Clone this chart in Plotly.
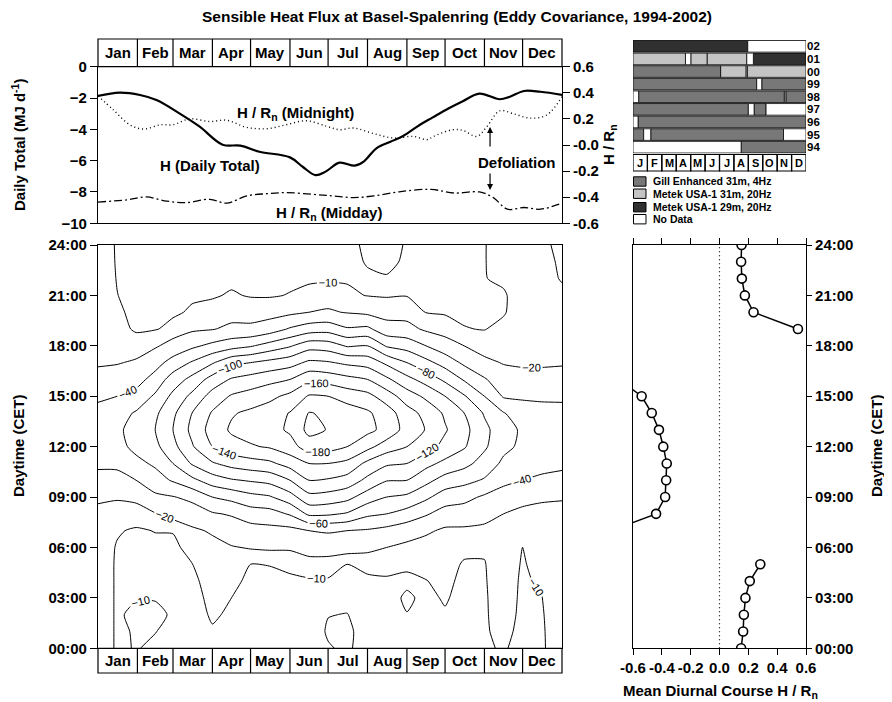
import numpy as np
import plotly.graph_objects as go

W, H = 892, 702
OFF = 8  # the page body adds an 8 px margin around the figure
def px(x): return (x - OFF) / W
def py(y): return 1 - (y - OFF) / H

FONT = "Liberation Sans, Arial, Helvetica, sans-serif"
BOLD15 = dict(family=FONT, size=15, color="black", weight="bold")

# ---------------- calendar ----------------
month_names = ["Jan", "Feb", "Mar", "Apr", "May", "Jun", "Jul", "Aug", "Sep", "Oct", "Nov", "Dec"]
month_letters = ["J", "F", "M", "A", "M", "J", "J", "A", "S", "O", "N", "D"]
month_edges = [0, 31, 59, 90, 120, 151, 181, 212, 243, 273, 304, 334, 365]

# ---------------- top panel ----------------
h_days = [0, 17, 33, 46, 64, 80, 98, 112, 127, 151, 161, 171, 179, 190, 202, 209, 219, 230, 240, 253, 263, 276, 287, 300, 316, 324, 335, 348, 365]
h_daily = [-1.87, -1.66, -1.81, -2.13, -2.98, -3.83, -4.98, -5.04, -5.43, -5.79, -6.39, -6.92, -6.70, -6.13, -6.32, -6.06, -5.21, -4.79, -4.43, -3.72, -3.25, -2.65, -2.2, -1.72, -2.08, -1.92, -1.55, -1.6, -1.8]

mn_days = [0, 12, 25, 36, 49, 59, 72, 88, 101, 117, 133, 148, 164, 180, 190, 201, 217, 232, 248, 259, 264, 279, 287, 298, 306, 316, 327, 340, 353, 365]
hrn_midnight = [0.376, 0.27, 0.155, 0.122, 0.155, 0.155, 0.2, 0.18, 0.19, 0.135, 0.125, 0.155, 0.186, 0.143, 0.117, 0.13, 0.087, 0.054, 0.066, 0.041, 0.066, 0.117, 0.112, 0.066, 0.142, 0.262, 0.239, 0.206, 0.23, 0.37]

md_days = [0, 23, 38, 54, 70, 88, 101, 117, 133, 148, 169, 185, 201, 217, 238, 262, 280, 300, 311, 322, 335, 348, 365]
hrn_midday = [-0.437, -0.42, -0.398, -0.43, -0.441, -0.416, -0.446, -0.39, -0.373, -0.365, -0.378, -0.39, -0.403, -0.39, -0.357, -0.34, -0.368, -0.36, -0.403, -0.492, -0.479, -0.492, -0.446]

rn_ticks = [-0.6, -0.4, -0.2, 0.0, 0.2, 0.4, 0.6]
rn_ticktext_top = ["-0.6", "-0.4", "-0.2", "-0.0", "0.2", "0.4", "0.6"]
rn_ticktext_bottom = ["-0.6", "-0.4", "-0.2", "0.0", "0.2", "0.4", "0.6"]
daily_ticks = [-10, -8, -6, -4, -2, 0]

# ---------------- contour grid (W m-2), columns = day of year, rows = hour ----------------
grid_days = [0, 15, 30, 45, 59, 74, 90, 105, 120, 135, 151, 166, 181, 196, 212, 227, 243, 258, 273, 288, 304, 319, 334, 349, 365]
grid_hours = list(range(25))
hour_ticks = [0, 3, 6, 9, 12, 15, 18, 21, 24]
hour_labels = ["00:00", "03:00", "06:00", "09:00", "12:00", "15:00", "18:00", "21:00", "24:00"]

c_d000 = [-13, -13, -13, -13, -13, -13, -13, -14, -17, -22, -33, -44, -51, -52, -47, -36, -26, -18, -15, -14, -13, -13, -13, -13, -13]
c_d015 = [-9.4, -9.4, -9.4, -9.4, -9.4, -9.4, -9.6, -10.5, -16, -21, -32, -45, -54, -56, -52, -40, -28, -19, -14, -12, -10.8, -10.1, -9.8, -9.6, -9.5]
c_d030 = [-10.2, -10.3, -11, -9.7, -8.5, -8.5, -8.8, -9.3, -13, -24, -40, -55, -65, -68, -62, -47, -32, -22, -13, -9.2, -8.8, -8.5, -8.5, -8.5, -8.5]
c_d045 = [-9.3, -10.1, -10.8, -9.8, -8.5, -8.3, -8.6, -10.2, -19, -36, -52, -63, -75, -80, -76, -63, -48, -32, -18, -9.5, -8.8, -8.5, -8.5, -8.5, -8.5]
c_d059 = [-8.5, -9, -9.6, -9.5, -8.5, -8.3, -8.7, -10.3, -25, -39, -62, -80, -94, -100, -96, -85, -69, -48, -26, -12, -9, -8.5, -8.5, -8.5, -8.5]
c_d074 = [-8, -8, -8.3, -8.7, -9.2, -9.9, -12, -17, -30, -45, -75, -102, -118, -125, -120, -105, -86, -62, -36, -17, -10.8, -9.2, -8.5, -8.5, -8.5]
c_d090 = [-8.5, -9.6, -10.5, -11, -11.5, -12.5, -15, -22, -38, -60, -90, -118, -140, -148, -142, -128, -108, -78, -45, -19, -11.5, -9.6, -9, -8.5, -8.5]
c_d105 = [-8.5, -8.8, -9.4, -10, -10.8, -12.5, -19, -28, -42, -66, -98, -127, -152, -163, -158, -142, -122, -95, -52, -24, -13, -10.4, -9.2, -8.5, -8.5]
c_d120 = [-8.5, -8.5, -8.5, -8.7, -9.3, -10, -21, -32, -50, -74, -102, -132, -158, -168, -164, -148, -128, -100, -58, -24, -12.5, -9.7, -9.5, -8.7, -8.5]
c_d135 = [-8.3, -8.3, -8.4, -8.6, -9.2, -10.1, -22, -34, -52, -78, -106, -136, -162, -173, -170, -155, -134, -106, -68, -30, -13, -9.6, -9.3, -8.6, -8.4]
c_d151 = [-8.2, -8.2, -8.3, -8.5, -9.2, -11, -22, -34, -62, -92, -120, -148, -172, -183, -181, -165, -140, -112, -78, -42, -16, -10.2, -9.2, -8.4, -8.2]
c_d166 = [-8, -8, -8.2, -8.5, -9.3, -13, -28, -40, -84, -114, -140, -160, -190, -206, -201, -182, -155, -124, -92, -50, -20, -12, -9, -8.2, -8]
c_d181 = [-9.7, -10.4, -9.9, -8.8, -9.3, -13, -28, -42, -83, -112, -138, -160, -188, -199, -197, -180, -152, -122, -90, -52, -22, -12.5, -9.3, -8.3, -8.2]
c_d196 = [-10.6, -10.8, -10.1, -9, -8.8, -10, -26, -40, -78, -106, -132, -155, -180, -192, -190, -172, -146, -116, -78, -42, -19, -11, -9.5, -8.8, -8.5]
c_d212 = [-8.3, -8.3, -8.4, -8.6, -9.3, -11, -24, -38, -64, -90, -115, -135, -166, -185, -183, -166, -140, -112, -80, -44, -16, -9.8, -9.4, -10.3, -11]
c_d227 = [-8.5, -8.5, -8.6, -8.8, -9.4, -11.5, -20, -34, -60, -80, -101, -123, -150, -174, -170, -150, -124, -96, -58, -28, -13, -9.6, -9.8, -10.6, -11.2]
c_d243 = [-8.6, -8.7, -9.9, -10.5, -9.4, -10.5, -16, -28, -52, -76, -100, -120, -140, -152, -148, -130, -106, -80, -52, -26, -13, -9.8, -9.3, -9.6, -9.7]
c_d258 = [-8.8, -8.8, -9, -9.3, -9.9, -11, -12.5, -23, -42, -64, -86, -106, -128, -139, -134, -116, -92, -66, -40, -17, -9.8, -9.3, -9.2, -9.2, -9.2]
c_d273 = [-9, -9.3, -9.7, -10.3, -10.8, -11.5, -12.5, -17, -32, -50, -72, -95, -114, -122, -117, -100, -76, -52, -28, -13, -9.4, -9.2, -9, -8.8, -8.8]
c_d288 = [-8.8, -8.8, -8.9, -9, -9.2, -9.6, -11, -17, -30, -46, -66, -86, -102, -106, -100, -82, -58, -36, -20, -10.2, -9.2, -9.1, -9, -8.9, -8.9]
c_d304 = [-9.6, -9.6, -9.6, -9.6, -9.7, -9.8, -10.5, -16, -26, -37, -58, -72, -83, -85, -78, -60, -42, -24, -13, -9.8, -9.8, -9.8, -9.8, -9.8, -9.8]
c_d319 = [-10.3, -11, -11.5, -11.8, -12, -12.5, -13.5, -16, -20, -31, -45, -56, -65, -68, -61, -38, -28, -19, -14.5, -11.5, -9.5, -9.3, -11, -12, -12]
c_d334 = [-9, -9, -9.2, -9.3, -9.4, -9.6, -9.9, -12, -17, -24, -40, -50, -56, -57, -50, -37, -25, -18, -15, -13.5, -13, -13, -13, -13, -13]
c_d349 = [-9.3, -9.4, -9.6, -9.9, -10.6, -11.5, -12.3, -13.5, -16, -22, -36, -47, -52, -53, -48, -36, -25, -18, -15, -14, -13.5, -13.2, -12.5, -12, -11]
c_d365 = [-13, -13, -13, -13, -13, -13, -13, -14, -16.5, -21, -33, -45, -51, -52, -47, -36, -26, -18.5, -15, -14, -13, -11.5, -9.5, -9, -8.8]

grid_columns = [c_d000, c_d015, c_d030, c_d045, c_d059, c_d074, c_d090, c_d105, c_d120, c_d135,
                c_d151, c_d166, c_d181, c_d196, c_d212, c_d227, c_d243, c_d258, c_d273, c_d288,
                c_d304, c_d319, c_d334, c_d349, c_d365]
z = np.array(grid_columns).T

# ---------------- mean diurnal course H / Rn ----------------
diurnal_hours = list(range(25))
diurnal_hrn = [0.15, 0.164, 0.169, 0.18, 0.21, 0.283, None, -0.75, -0.44, -0.377, -0.37, -0.366, -0.39,
               -0.42, -0.47, -0.54, -0.70, None, None, 0.544, 0.236, 0.176, 0.155, 0.15, 0.153]

# ---------------- data availability ----------------
years = ["94", "95", "96", "97", "98", "99", "00", "01", "02"]
seg_year = ["02", "02",
            "01", "01", "01", "01", "01", "01",
            "00", "00", "00", "00",
            "99", "99", "99",
            "98", "98", "98", "98",
            "97", "97", "97", "97",
            "96", "96",
            "95", "95", "95", "95",
            "94", "94"]
seg_start = [0, 7.96,
             0, 3.64, 4.01, 5.15, 7.89, 8.35,
             0, 6.08, 7.85, 7.93,
             0, 8.58, 8.93,
             0, 0.39, 10.5, 10.6,
             0, 8.0, 8.4, 9.23,
             0, 0.35,
             0, 0.74, 1.23, 10.44,
             0, 7.5]
seg_end = [7.96, 12,
           3.64, 4.01, 5.15, 7.89, 8.35, 12,
           6.08, 7.85, 7.93, 12,
           8.58, 8.93, 12,
           0.39, 10.5, 10.6, 12,
           8.0, 8.4, 9.23, 12,
           0.35, 12,
           0.74, 1.23, 10.44, 12,
           7.5, 12]
seg_kind = ["M29", "ND",
            "M31", "ND", "M31", "M31", "ND", "M29",
            "G", "M31", "ND", "M31",
            "G", "ND", "G",
            "ND", "G", "ND", "G",
            "G", "ND", "G", "ND",
            "ND", "G",
            "G", "ND", "G", "ND",
            "ND", "G"]
kind_names = {"G": "Gill Enhanced 31m, 4Hz", "M31": "Metek USA-1 31m, 20Hz",
              "M29": "Metek USA-1 29m, 20Hz", "ND": "No Data"}
kind_colors = {"G": "#787878", "M31": "#c4c4c4", "M29": "#303030", "ND": "#ffffff"}
legend_order = ["G", "M31", "M29", "ND"]

fig = go.Figure()

# top panel
fig.add_trace(go.Scatter(x=h_days, y=h_daily, mode="lines", line=dict(color="black", width=2.2, shape="spline"),
                         xaxis="x", yaxis="y", hoverinfo="skip"))
fig.add_trace(go.Scatter(x=mn_days, y=hrn_midnight, mode="lines",
                         line=dict(color="black", width=1.4, dash="1px,3px", shape="spline"),
                         xaxis="x", yaxis="y2", hoverinfo="skip"))
fig.add_trace(go.Scatter(x=md_days, y=hrn_midday, mode="lines",
                         line=dict(color="black", width=1.3, dash="8px,3px,2px,3px", shape="spline"),
                         xaxis="x", yaxis="y2", hoverinfo="skip"))

# contour panel
black_scale = [[0, "black"], [1, "black"]]
for start, end, size in [(-200, -20, 20), (-10, -10, 10)]:
    fig.add_trace(go.Contour(x=grid_days, y=grid_hours, z=z, xaxis="x3", yaxis="y3", showscale=False,
                             autocontour=False, colorscale=black_scale,
                             contours=dict(start=start, end=end, size=size, coloring="lines", showlabels=True,
                                           labelfont=dict(family=FONT, size=11, color="black")),
                             line=dict(width=1, smoothing=0.6), hoverinfo="skip"))

# diurnal panel
fig.add_trace(go.Scatter(x=[0, 0], y=[0, 24], mode="lines", line=dict(color="black", width=1.2, dash="1px,3px"),
                         xaxis="x4", yaxis="y4", hoverinfo="skip"))
fig.add_trace(go.Scatter(x=diurnal_hrn, y=diurnal_hours, mode="lines+markers", connectgaps=False,
                         line=dict(color="black", width=1.5),
                         marker=dict(symbol="circle", size=9, color="white", line=dict(color="black", width=1.6)),
                         xaxis="x4", yaxis="y4", hoverinfo="skip"))

# availability bars
for k in legend_order:
    idx = [i for i, kk in enumerate(seg_kind) if kk == k]
    fig.add_trace(go.Bar(orientation="h", y=[seg_year[i] for i in idx],
                         x=[seg_end[i] - seg_start[i] for i in idx],
                         base=[seg_start[i] for i in idx],
                         marker=dict(color=kind_colors[k], line=dict(color="black", width=0.8)),
                         xaxis="x5", yaxis="y5", hoverinfo="skip", width=0.92))

shapes = []
annotations = []

def month_strip(xref, y_top, y_bot, fontsize):
    shapes.append(dict(type="rect", xref="paper", yref="paper", x0=px(98), x1=px(562),
                       y0=py(y_bot), y1=py(y_top), line=dict(color="black", width=1.2)))
    for e in month_edges[1:-1]:
        shapes.append(dict(type="line", xref=xref, yref="paper", x0=e, x1=e, y0=py(y_bot), y1=py(y_top),
                           line=dict(color="black", width=1.2)))
    for i, name in enumerate(month_names):
        annotations.append(dict(xref=xref, yref="paper", x=(month_edges[i] + month_edges[i + 1]) / 2,
                                y=py((y_top + y_bot) / 2), yanchor="middle", text=name, showarrow=False,
                                font=dict(family=FONT, size=fontsize, color="black", weight="bold")))

month_strip("x", 39, 66.7, 15)
month_strip("x3", 648.3, 673, 15)

# availability month strip
for i, m in enumerate(month_letters):
    shapes.append(dict(type="rect", xref="x5", yref="paper", x0=i, x1=i + 1, y0=py(171), y1=py(154.5),
                       line=dict(color="black", width=1.2)))
    annotations.append(dict(xref="x5", yref="paper", x=i + 0.5, y=py(162.7), yanchor="middle", text=m,
                            showarrow=False, font=dict(family=FONT, size=11, color="black", weight="bold")))

# legend
leg_rows = [181.5, 193.7, 207.2, 219.2]
for k, yc in zip(legend_order, leg_rows):
    shapes.append(dict(type="rect", xref="paper", yref="paper", x0=px(633.5), x1=px(646),
                       y0=py(yc + 4.7), y1=py(yc - 4.7), fillcolor=kind_colors[k],
                       line=dict(color="black", width=1)))
    annotations.append(dict(xref="paper", yref="paper", x=px(651), y=py(yc), xanchor="left", yanchor="middle",
                            text=kind_names[k], showarrow=False,
                            font=dict(family=FONT, size=10.5, color="black", weight="bold")))

# texts
def label(x, y, text, size=15, angle=0, anchor="center"):
    annotations.append(dict(xref="paper", yref="paper", x=px(x), y=py(y), text=text, showarrow=False,
                            textangle=angle, xanchor=anchor, yanchor="middle",
                            font=dict(family=FONT, size=size, color="black", weight="bold")))

label(457, 17, "Sensible Heat Flux at Basel-Spalenring (Eddy Covariance, 1994-2002)", size=15.5)
label(18, 145, "Daily Total (MJ d<sup>-1</sup>)", angle=-90)
label(609, 145, "H / R<sub>n</sub>", angle=-90)
label(295, 113, "H / R<sub>n</sub> (Midnight)")
label(210, 165, "H (Daily Total)")
label(329, 213, "H / R<sub>n</sub> (Midday)")
label(517, 162, "Defoliation")
label(18, 446, "Daytime (CET)", angle=-90)
label(876, 446, "Daytime (CET)", angle=-90)
label(720, 691, "Mean Diurnal Course H / R<sub>n</sub>")

# defoliation arrows
annotations.append(dict(xref="x", yref="y", x=308.4, y=-3.85, ax=0, ay=21, text="", showarrow=True,
                        arrowhead=2, arrowsize=1, arrowwidth=1.2, arrowcolor="black"))
annotations.append(dict(xref="x", yref="y", x=308.4, y=-7.87, ax=0, ay=-18, text="", showarrow=True,
                        arrowhead=2, arrowsize=1, arrowwidth=1.2, arrowcolor="black"))

axis_common = dict(showgrid=False, zeroline=False, linecolor="black", linewidth=1.2, automargin=False,
                   tickcolor="black", tickwidth=1.2, tickfont=BOLD15)

fig.update_layout(
    template="none",
    width=W, height=H, margin=dict(l=0, r=0, t=0, b=0, pad=0), autosize=False,
    paper_bgcolor="white", plot_bgcolor="white", showlegend=False,
    barmode="overlay", bargap=0.06,
    shapes=shapes, annotations=annotations,
    xaxis=dict(domain=[px(98), px(562)], range=[0, 365], anchor="y", showticklabels=False, ticks="",
               showline=True, mirror=True, **axis_common),
    yaxis=dict(domain=[py(223.3), py(66.7)], range=[-10, 0], anchor="x", tickvals=daily_ticks,
               ticks="outside", ticklen=7, showline=True, **axis_common),
    yaxis2=dict(overlaying="y", side="right", anchor="x", range=[-0.6, 0.6], tickvals=rn_ticks,
                ticktext=rn_ticktext_top, ticks="outside", ticklen=7, showline=True, **axis_common),
    xaxis3=dict(domain=[px(98), px(562)], range=[0, 365], anchor="y3", showticklabels=False, ticks="",
                showline=True, mirror=True, **axis_common),
    yaxis3=dict(domain=[py(648.3), py(245)], range=[0, 24], anchor="x3", tickvals=hour_ticks,
                ticktext=hour_labels, ticks="outside", ticklen=7, showline=True, mirror=True, **axis_common),
    xaxis4=dict(domain=[px(633), px(806)], range=[-0.6, 0.6], anchor="y4", tickvals=rn_ticks, tickangle=0,
                ticktext=rn_ticktext_bottom, ticks="outside", ticklen=6, showline=True, mirror="ticks",
                **axis_common),
    yaxis4=dict(domain=[py(648.3), py(245)], range=[0, 24], anchor="x4", side="right", tickvals=hour_ticks,
                ticktext=hour_labels, ticks="outside", ticklen=5, showline=True, mirror=True, **axis_common),
    xaxis5=dict(domain=[px(633), px(806)], range=[0, 12], anchor="y5", visible=False, automargin=False),
    yaxis5=dict(domain=[py(153.5), py(40)], anchor="x5", side="right", type="category",
                categoryorder="array", categoryarray=years, tickmode="array", tickvals=years, ticktext=years,
                ticks="", showline=False, showgrid=False, automargin=False,
                zeroline=False, tickfont=dict(family=FONT, size=11.5, color="black", weight="bold")),
)

fig.write_html("out.html")
